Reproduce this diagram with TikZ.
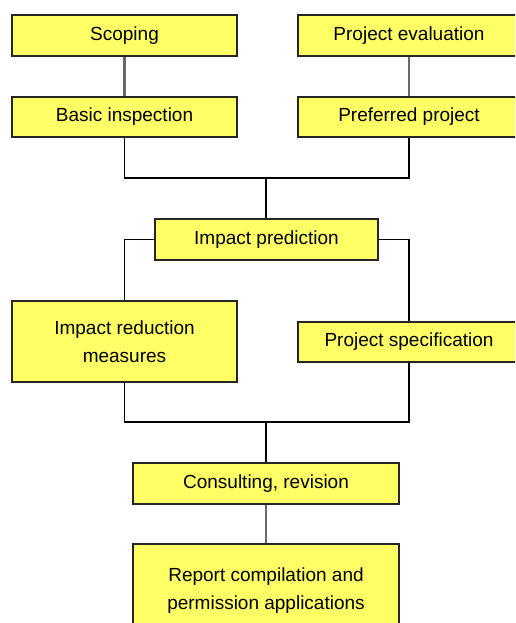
\documentclass[tikz,border=0pt]{standalone}
\usepackage{fontspec}
\setmainfont{Liberation Sans}
\definecolor{boxfill}{RGB}{255,255,102}
\definecolor{graylink}{RGB}{105,105,105}
\begin{document}
\begin{tikzpicture}[x=1pt,y=-1pt,
  stepbox/.style={draw=black!85,line width=1.6pt,fill=boxfill,rectangle,inner sep=0pt,
    font=\fontsize{19}{28}\selectfont,align=center},
  glink/.style={draw=graylink,line width=2.2pt},
  blink/.style={draw=black,line width=1.4pt}]
\clip (0,0) rectangle (515,623);
\fill[white] (0,0) rectangle (515,623);
\coordinate (j1) at (266,178);
\coordinate (j2) at (266,422);
\node[stepbox,minimum width=225pt,minimum height=41pt] (scop) at (124.5,35.5) {Scoping};
\node[stepbox,minimum width=222pt,minimum height=41pt] (peval) at (409,35.5) {Project evaluation};
\node[stepbox,minimum width=225pt,minimum height=40pt] (basic) at (124.5,117) {Basic inspection};
\node[stepbox,minimum width=222pt,minimum height=40pt] (pref) at (409,117) {Preferred project};
\node[stepbox,minimum width=223pt,minimum height=41pt] (imp) at (266.5,239.5) {Impact prediction};
\node[stepbox,minimum width=225pt,minimum height=81pt] (ired) at (124.5,341.5) {Impact reduction\\measures};
\node[stepbox,minimum width=222pt,minimum height=40pt] (pspec) at (409,342) {Project specification};
\node[stepbox,minimum width=266pt,minimum height=41pt] (cons) at (266,483.5) {Consulting, revision};
\node[stepbox,minimum width=266pt,minimum height=94pt] (rep) at (266,591) {Report compilation and\\permission applications};
\draw[glink] (scop) -- (basic);
\draw[glink] (peval) -- (pref);
\draw[glink] (cons) -- (rep);
\draw[blink] (basic.south) |- (j1) -| (pref.south);
\draw[blink] (j1) -- (j1 |- imp.north);
\draw[blink] (imp.west) -| (ired.north);
\draw[blink] (imp.east) -| (pspec.north);
\draw[blink] (ired.south) |- (j2) -| (pspec.south);
\draw[blink] (j2) -- (cons.north);
\end{tikzpicture}
\end{document}
